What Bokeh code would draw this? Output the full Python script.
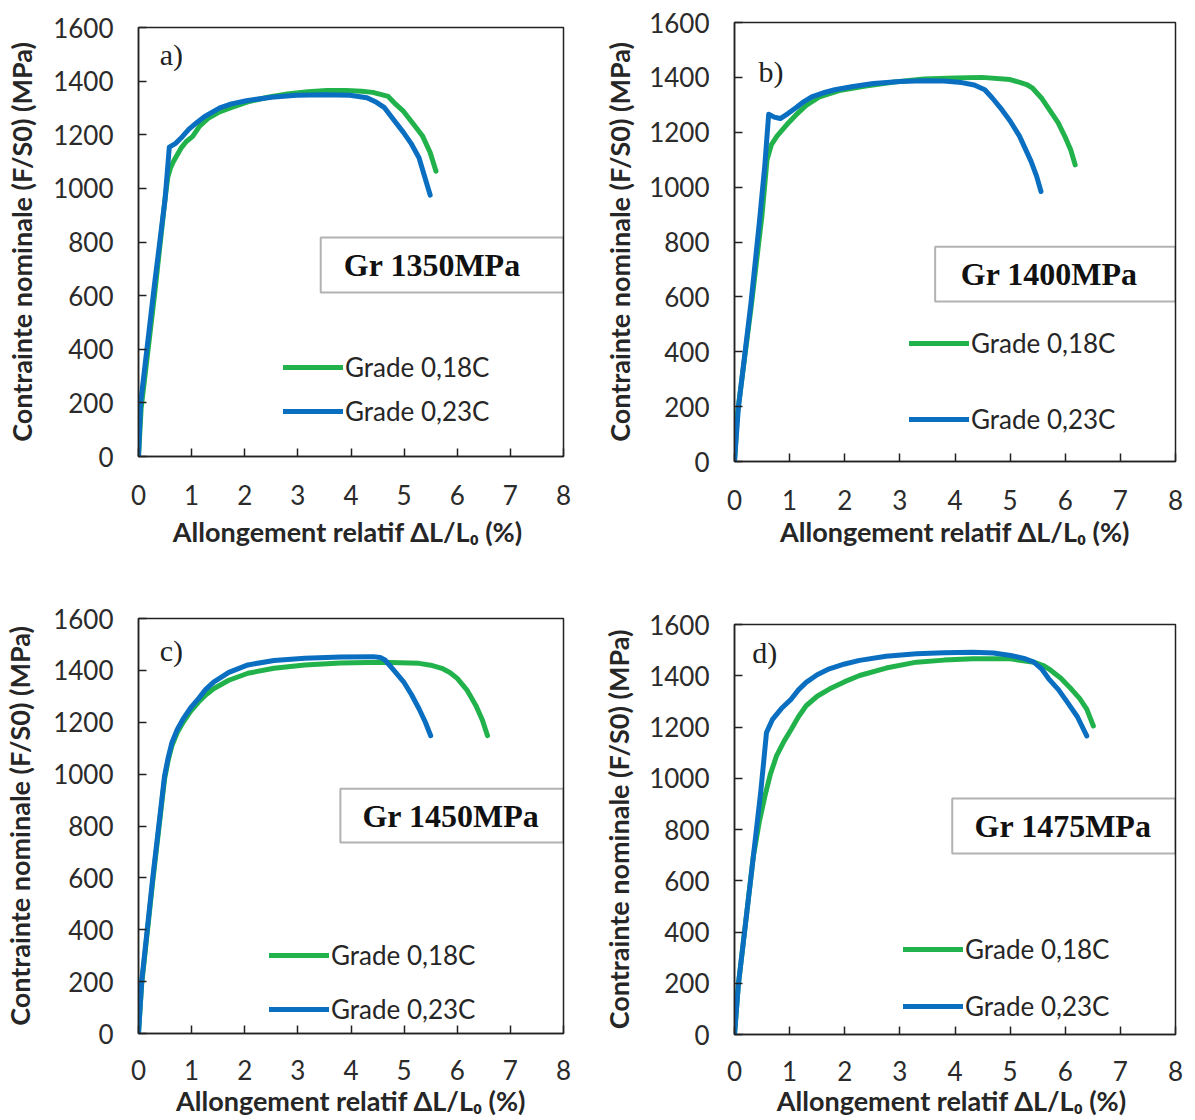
from bokeh.plotting import figure
from bokeh.layouts import row, column
from bokeh.models import Range1d, Legend, LegendItem, Label, BoxAnnotation, FixedTicker
from bokeh.embed import file_html
from bokeh.resources import INLINE

# ---------------- data ----------------
x_ticks = [0, 1, 2, 3, 4, 5, 6, 7, 8]
y_ticks = [0, 200, 400, 600, 800, 1000, 1200, 1400, 1600]
series_labels = ["Grade 0,18C", "Grade 0,23C"]
panel_letters = ["a)", "b)", "c)", "d)"]
grade_titles = ["Gr 1350MPa", "Gr 1400MPa", "Gr 1450MPa", "Gr 1475MPa"]
x_titles = ["Allongement relatif ΔL/L₀  (%)", "Allongement relatif ΔL/L₀ (%)",
            "Allongement relatif ΔL/L₀ (%)", "Allongement relatif ΔL/L₀  (%)"]
y_title = "Contrainte nominale (F/S0) (MPa)"

# panel a
a_x_018 = [0, 0.05, 0.30, 0.50, 0.55, 0.60, 0.66, 0.80, 0.90, 1.02, 1.15, 1.31, 1.50, 1.74, 2.10, 2.46, 2.80, 3.19, 3.55, 3.91, 4.20, 4.41, 4.70, 4.84, 4.99, 5.17, 5.35, 5.49, 5.60]
a_y_018 = [0, 180, 600, 960, 1040, 1075, 1101, 1150, 1175, 1194, 1232, 1261, 1283, 1301, 1325, 1341, 1352, 1360, 1365, 1365, 1362, 1358, 1343, 1314, 1287, 1241, 1194, 1134, 1064]
a_x_023 = [0, 0.04, 0.30, 0.50, 0.58, 0.70, 0.82, 0.95, 1.10, 1.24, 1.53, 1.75, 2.03, 2.50, 2.97, 3.50, 3.98, 4.30, 4.48, 4.63, 4.81, 4.99, 5.13, 5.28, 5.38, 5.49]
a_y_023 = [0, 200, 640, 960, 1154, 1168, 1192, 1221, 1246, 1267, 1300, 1315, 1327, 1340, 1347, 1349, 1347, 1338, 1321, 1301, 1254, 1208, 1168, 1114, 1048, 975]
# panel b
b_x_018 = [0, 0.05, 0.30, 0.50, 0.59, 0.67, 0.77, 0.95, 1.12, 1.30, 1.54, 1.90, 2.38, 2.90, 3.44, 4.00, 4.49, 5.00, 5.19, 5.30, 5.40, 5.58, 5.73, 5.87, 5.99, 6.10, 6.18]
b_y_018 = [0, 170, 560, 900, 1100, 1155, 1186, 1228, 1264, 1298, 1329, 1352, 1368, 1383, 1394, 1398, 1400, 1392, 1381, 1374, 1362, 1322, 1277, 1235, 1186, 1135, 1081]
b_x_023 = [0, 0.07, 0.30, 0.45, 0.55, 0.62, 0.72, 0.83, 0.97, 1.12, 1.26, 1.40, 1.60, 1.82, 2.15, 2.52, 3.00, 3.42, 3.80, 4.12, 4.35, 4.54, 4.68, 4.82, 5.00, 5.17, 5.38, 5.48, 5.56]
b_y_023 = [0, 195, 580, 870, 1080, 1266, 1255, 1250, 1268, 1290, 1312, 1329, 1343, 1355, 1367, 1378, 1385, 1388, 1387, 1381, 1372, 1355, 1324, 1290, 1241, 1186, 1094, 1040, 984]
# panel c
c_x_018 = [0, 0.06, 0.27, 0.49, 0.56, 0.63, 0.73, 0.84, 0.98, 1.13, 1.27, 1.42, 1.70, 2.06, 2.55, 3.13, 3.80, 4.57, 5.28, 5.50, 5.71, 5.86, 6.00, 6.18, 6.35, 6.47, 6.57]
c_y_018 = [0, 190, 590, 980, 1055, 1110, 1160, 1200, 1242, 1278, 1306, 1330, 1362, 1389, 1408, 1421, 1428, 1431, 1427, 1420, 1408, 1392, 1369, 1325, 1265, 1210, 1148]
c_x_023 = [0, 0.06, 0.27, 0.49, 0.56, 0.63, 0.73, 0.84, 0.98, 1.13, 1.27, 1.42, 1.70, 2.06, 2.55, 3.13, 3.80, 4.42, 4.55, 4.64, 4.80, 4.99, 5.14, 5.28, 5.40, 5.50]
c_y_023 = [0, 201, 603, 993, 1065, 1122, 1172, 1213, 1255, 1291, 1328, 1356, 1392, 1421, 1438, 1447, 1452, 1453, 1450, 1440, 1402, 1356, 1306, 1252, 1200, 1148]
# panel d
d_x_018 = [0, 0.07, 0.34, 0.45, 0.55, 0.65, 0.76, 0.90, 1.03, 1.16, 1.30, 1.50, 1.72, 2.00, 2.27, 2.75, 3.30, 3.80, 4.33, 5.01, 5.43, 5.60, 5.70, 5.92, 6.11, 6.26, 6.39, 6.51]
d_y_018 = [0, 194, 692, 830, 929, 1015, 1086, 1145, 1191, 1240, 1283, 1320, 1348, 1377, 1401, 1430, 1453, 1461, 1466, 1466, 1453, 1440, 1427, 1390, 1348, 1312, 1270, 1204]
d_x_023 = [0, 0.07, 0.34, 0.48, 0.58, 0.69, 0.85, 1.03, 1.16, 1.30, 1.50, 1.72, 2.00, 2.27, 2.75, 3.30, 3.80, 4.33, 4.70, 5.01, 5.25, 5.43, 5.57, 5.70, 5.88, 6.04, 6.22, 6.39]
d_y_023 = [0, 194, 692, 955, 1178, 1230, 1272, 1309, 1345, 1374, 1404, 1427, 1446, 1460, 1476, 1486, 1490, 1492, 1489, 1479, 1468, 1453, 1427, 1388, 1345, 1296, 1240, 1165]

series = [
    ((a_x_018, a_y_018), (a_x_023, a_y_023)),
    ((b_x_018, b_y_018), (b_x_023, b_y_023)),
    ((c_x_018, c_y_018), (c_x_023, c_y_023)),
    ((d_x_018, d_y_018), (d_x_023, d_y_023)),
]

# ---------------- layout / style ----------------
GREEN = "#22B24C"
BLUE = "#0B6FC1"
TICK_FONT = "Lato"
TEXT_COLOR = "#262626"

layout_cfg = [
    dict(w=595, h=550, bl=138, br=32, bt=27, bb=94, ylab_sf=12, xl_sf=28, xt_sf=7,
         box=(3.43, 8, 612, 817), box_txt=(5.53, 713), letter=(0.62, 1500),
         leg=(145, 29.5, 12)),
    dict(w=595, h=553, bl=139, br=15, bt=22, bb=92, ylab_sf=10, xl_sf=28, xt_sf=2,
         box=(3.64, 8, 583, 783), box_txt=(5.71, 685), letter=(0.66, 1420),
         leg=(175, 26.5, 44)),
    dict(w=595, h=570, bl=138, br=32, bt=68, bb=87, ylab_sf=14, xl_sf=26, xt_sf=1,
         box=(3.80, 8, 736, 944), box_txt=(5.88, 840), letter=(0.62, 1475),
         leg=(131, 8.5, 22)),
    dict(w=595, h=567, bl=139, br=15, bt=71, bb=86, ylab_sf=11, xl_sf=26, xt_sf=0,
         box=(3.95, 8, 706, 921), box_txt=(5.96, 813), letter=(0.55, 1490),
         leg=(169, 12.5, 25)),
]


def make_panel(i):
    cfg = layout_cfg[i]
    p = figure(width=cfg["w"], height=cfg["h"], output_backend="svg", toolbar_location=None,
               x_range=Range1d(0, 8), y_range=Range1d(0, 1600),
               min_border_left=cfg["bl"], min_border_right=cfg["br"],
               min_border_top=cfg["bt"], min_border_bottom=cfg["bb"])
    p.grid.visible = False
    p.outline_line_color = "#222222"
    p.outline_line_width = 1.5
    p.background_fill_color = "white"
    p.border_fill_color = "white"

    p.xaxis.ticker = FixedTicker(ticks=x_ticks)
    p.yaxis.ticker = FixedTicker(ticks=y_ticks)
    for ax in (p.xaxis, p.yaxis):
        ax.major_tick_in = 8
        ax.major_tick_out = 0
        ax.minor_tick_line_color = None
        ax.axis_line_color = "#222222"
        ax.axis_line_width = 1.5
        ax.major_tick_line_color = "#222222"
        ax.major_tick_line_width = 1.5
        ax.major_label_text_font = TICK_FONT
        ax.major_label_text_font_size = "26px"
        ax.major_label_text_color = "#2b2b2b"
        ax.axis_label_text_font = TICK_FONT
        ax.axis_label_text_font_style = "bold"
        ax.axis_label_text_font_size = "27px"
        ax.axis_label_text_color = TEXT_COLOR
    p.xaxis.axis_label = x_titles[i]
    p.yaxis.axis_label = y_title
    p.xaxis.major_label_standoff = cfg["xl_sf"]
    p.xaxis.axis_label_standoff = cfg["xt_sf"]
    p.yaxis.major_label_standoff = 25
    p.yaxis.axis_label_standoff = cfg["ylab_sf"]

    (gx, gy), (bx, by) = series[i]
    rg = p.line(gx, gy, line_color=GREEN, line_width=5, line_join="round", line_cap="round")
    rb = p.line(bx, by, line_color=BLUE, line_width=5, line_join="round", line_cap="round")

    lx, ly, sp = cfg["leg"]
    legend = Legend(items=[LegendItem(label=series_labels[0], renderers=[rg]),
                           LegendItem(label=series_labels[1], renderers=[rb])],
                    location=(lx, ly), orientation="vertical",
                    glyph_width=60, glyph_height=24, label_height=24, spacing=sp,
                    padding=0, margin=0, label_standoff=2,
                    border_line_alpha=0, background_fill_alpha=0,
                    label_text_font=TICK_FONT, label_text_font_size="26px",
                    label_text_color=TEXT_COLOR)
    p.add_layout(legend)

    l, r, b, t = cfg["box"]
    p.add_layout(BoxAnnotation(left=l, right=r, bottom=b, top=t, fill_alpha=0,
                               line_color="#000000", line_width=2))
    tx, ty = cfg["box_txt"]
    p.add_layout(Label(x=tx, y=ty, text=grade_titles[i], text_font="Liberation Serif",
                       text_font_style="bold", text_font_size="32px", text_color="#111111",
                       text_align="center", text_baseline="middle"))
    lx2, ly2 = cfg["letter"]
    p.add_layout(Label(x=lx2, y=ly2, text=panel_letters[i], text_font="Liberation Serif",
                       text_font_size="30px", text_color="#222222",
                       text_align="center", text_baseline="middle"))
    return p


panels = [make_panel(i) for i in range(4)]
page = row(column(panels[0], panels[2]), column(panels[1], panels[3]))

open("out.html", "w").write(file_html(page, INLINE))
